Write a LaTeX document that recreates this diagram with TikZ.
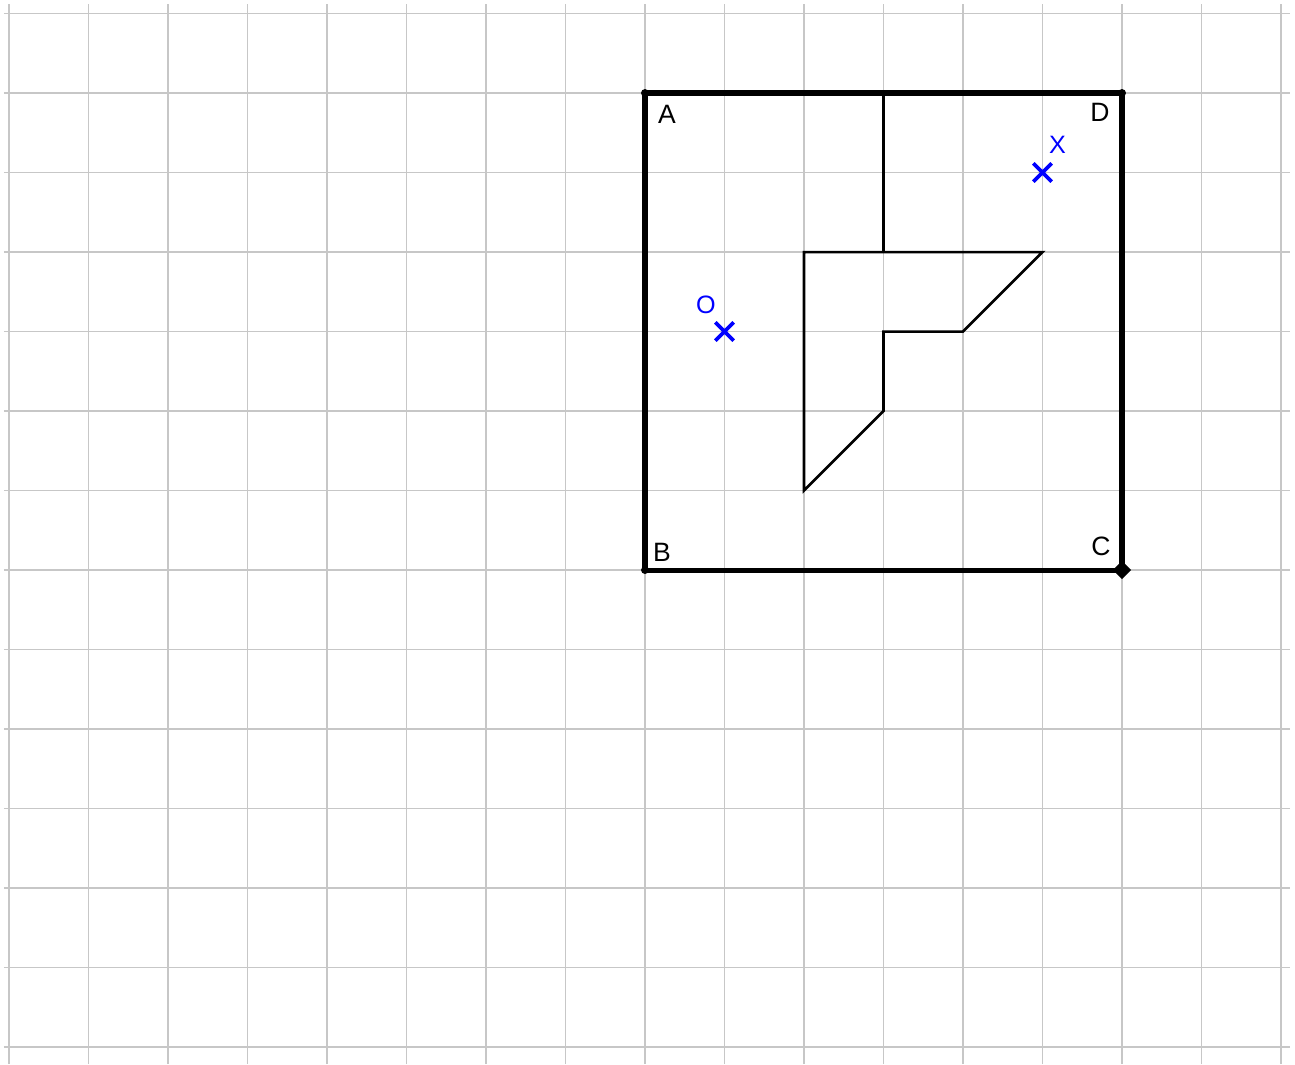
\documentclass[tikz,border=0pt]{standalone}
\usepackage{fontspec}
\setmainfont{Liberation Sans}
\usetikzlibrary{positioning}

\begin{document}
\begin{tikzpicture}[gridline/.style = {draw=black!22, line width=0.6pt}, side/.style = {line width=1.8pt}, piece/.style = {line width=0.9pt, line join=miter}, cross/.style = {draw=blue, line width=1.3pt}, corner/.style = {inner sep=0pt, font=\fontsize{9.5}{11}\selectfont}, ptlabel/.style = {inner sep=0pt, text=blue, font=\fontsize{9}{11}\selectfont}]
\useasboundingbox (-0.113,-0.214) rectangle (16.176,13.170);
\foreach \i in {0,...,16} \draw[gridline] (\i,-0.214) -- (\i,13.12);
\foreach \j in {0,...,13} \draw[gridline] (-0.063,\j) -- (16.11,\j);

\coordinate (A) at (8,12);
\coordinate (B) at (8,6);
\coordinate (C) at (14,6);
\coordinate (D) at (14,12);
\coordinate (m1) at (11,12);
\coordinate (p1) at (10,10);
\coordinate (p2) at (11,10);
\coordinate (p3) at (13,10);
\coordinate (p4) at (12,9);
\coordinate (p5) at (11,9);
\coordinate (p6) at (11,8);
\coordinate (p7) at (10,7);
\coordinate (O) at (9,9);
\coordinate (X) at (13,11);

\draw[side] (A) -- (D) -- (C) -- (B) -- cycle;
\fill (A) circle (0.05);
\fill (B) circle (0.05);
\fill (D) circle (0.05);
\fill (C) +(-0.115,0) -- +(0,0.115) -- +(0.115,0) -- +(0,-0.115) -- cycle;
\draw[piece] (m1) -- (p2);
\draw[piece] (p1) -- (p3) -- (p4) -- (p5) -- (p6) -- (p7) -- cycle;

\draw[cross] (O) +(-0.115,-0.115) -- +(0.115,0.115) (O) +(-0.115,0.115) -- +(0.115,-0.115);
\draw[cross] (X) +(-0.115,-0.115) -- +(0.115,0.115) (X) +(-0.115,0.115) -- +(0.115,-0.115);

\node[corner] (lA) [below right=0.27cm and 0.277cm of A, anchor=center]{A};
\node[corner] (lB) [above right=0.22cm and 0.214cm of B, anchor=center]{B};
\node[corner] (lC) [above left=0.30cm and 0.264cm of C, anchor=center]{C};
\node[corner] (lD) [below left=0.24cm and 0.277cm of D, anchor=center]{D};
\node[ptlabel] (lO) [above left=0.333cm and 0.233cm of O, anchor=center]{O};
\node[ptlabel] (lX) [above right=0.35cm and 0.19cm of X, anchor=center]{X};
\end{tikzpicture}
\end{document}
